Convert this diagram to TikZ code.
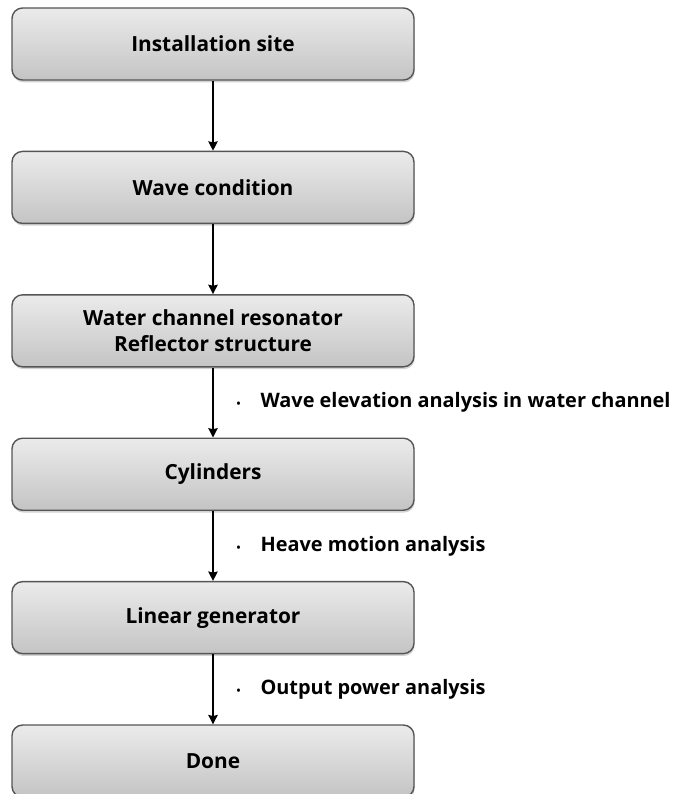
\documentclass[tikz,border=0pt]{standalone}
\usepackage{fontspec}
\setmainfont{Open Sans}
\usetikzlibrary{positioning,shadows,calc,arrows.meta}
\definecolor{boxtop}{HTML}{EBEBEB}
\definecolor{boxbot}{HTML}{C4C4C4}
\definecolor{boxline}{HTML}{555555}
\tikzset{
  stepbox/.style={draw=boxline, line width=1.2pt, rounded corners=9pt,
    top color=boxtop, bottom color=boxbot,
    minimum width=12.06cm, minimum height=2.16cm, align=center,
    font=\fontsize{17.8}{22.5}\selectfont\bfseries,
    drop shadow={shadow xshift=0.6pt, shadow yshift=-2pt, opacity=0.35}},
  note/.style={anchor=west, font=\fontsize{17}{20}\selectfont\bfseries, inner sep=0pt},
  flow/.style={->, line width=1.5pt}
}
\begin{document}
\begin{tikzpicture}[>={Stealth[length=2.8mm,width=2.8mm,inset=0.3mm]}, node distance=2.1cm]
\useasboundingbox (0,0) rectangle (20.31,-23.82);
\node[stepbox] (site) at (6.39,-1.32) {Installation site};
\node[stepbox, below=of site] (wave) {Wave condition};
\node[stepbox, below=of wave] (chan) {Water channel resonator\\Reflector structure};
\node[stepbox, below=of chan] (cyl) {Cylinders};
\node[stepbox, below=of cyl] (gen) {Linear generator};
\node[stepbox, below=of gen] (done) {Done};
\draw[flow](site)--(wave);
\draw[flow](wave)--(chan);
\draw[flow](chan)--(cyl);
\draw[flow](cyl)--(gen);
\draw[flow](gen)--(done);
\node[note] (elev) at ($(chan.south)!0.5!(cyl.north)+(0.7,0)$) {{\fontsize{9}{9}\selectfont•}\hspace{0.6cm}Wave elevation analysis in water channel};
\node[note] (heave) at ($(cyl.south)!0.5!(gen.north)+(0.7,0)$) {{\fontsize{9}{9}\selectfont•}\hspace{0.6cm}Heave motion analysis};
\node[note] (power) at ($(gen.south)!0.5!(done.north)+(0.7,0)$) {{\fontsize{9}{9}\selectfont•}\hspace{0.6cm}Output power analysis};
\end{tikzpicture}
\end{document}
